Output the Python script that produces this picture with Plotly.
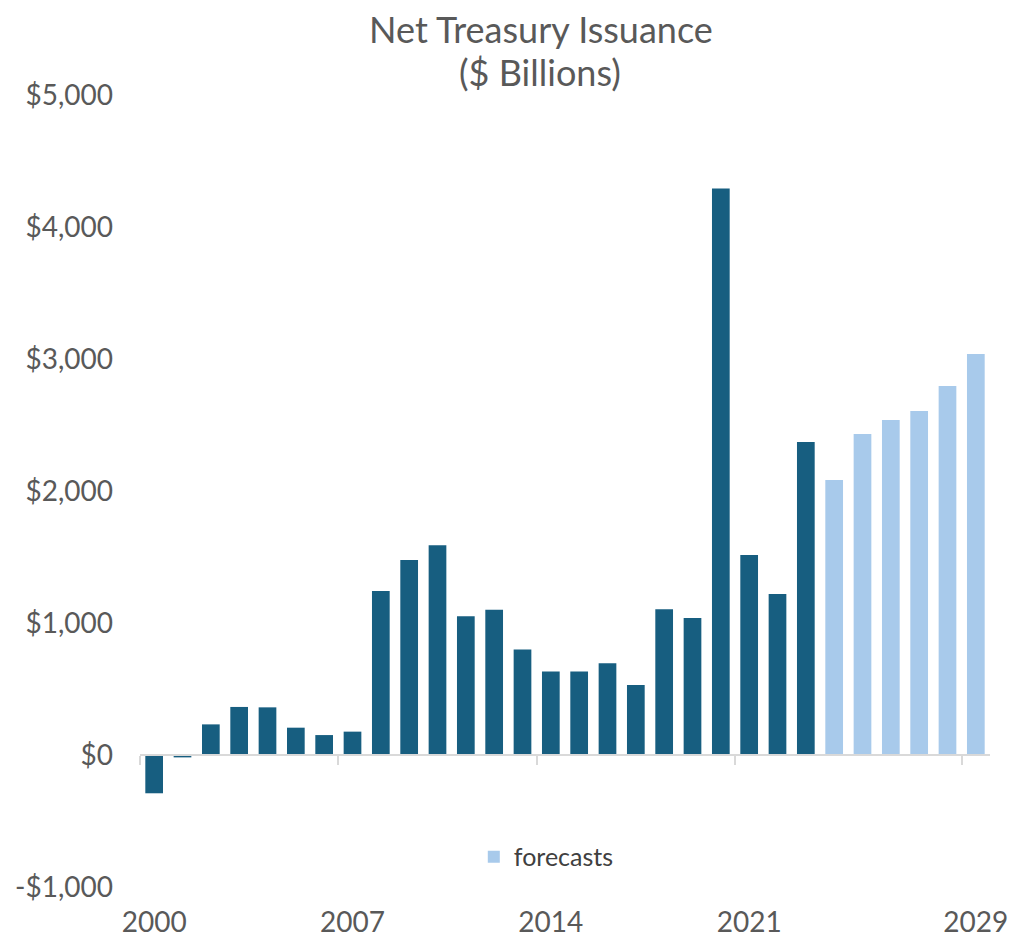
import plotly.graph_objects as go

# Net Treasury issuance, $ billions
hist_years = list(range(2000, 2024))
hist_values = [-290, -18, 232, 364, 361, 207, 151, 177, 1242, 1477, 1589, 1051,
               1100, 800, 632, 632, 695, 530, 1104, 1038, 4292, 1515, 1220, 2371]

fcst_years = list(range(2024, 2030))
fcst_values = [2083, 2432, 2538, 2606, 2795, 3038]

y_ticks = [-1000, 0, 1000, 2000, 3000, 4000, 5000]
y_labels = ["-$1,000", "$0", "$1,000", "$2,000", "$3,000", "$4,000", "$5,000"]

x_label_years = [2000, 2007, 2014, 2021, 2029]
x_tick_marks = [1999.5, 2006.5, 2013.5, 2020.5, 2028.5]

DARK = "#175e80"
LIGHT = "#a8caeb"
TEXT = "#595959"
AXIS = "#d9d9d9"
FONT = "Lato"

x_range = [1999.5, 2029.5]
y_range = [-1000, 5000]

fig = go.Figure()
fig.add_trace(go.Bar(
    x=hist_years, y=hist_values, marker=dict(color=DARK, line=dict(width=0)),
    showlegend=False, name="actual", xaxis="x",
))
fig.add_trace(go.Bar(
    x=fcst_years, y=fcst_values, marker=dict(color=LIGHT, line=dict(width=0)),
    name="forecasts", xaxis="x2",
))

zero_pos = (0 - y_range[0]) / (y_range[1] - y_range[0])

fig.update_layout(
    width=1013, height=939,
    margin=dict(l=140, r=23, t=95, b=52, autoexpand=False),
    paper_bgcolor="white", plot_bgcolor="white",
    barmode="overlay", bargap=0.375,
    font=dict(family=FONT, color=TEXT, size=28),
    title=dict(
        text="Net Treasury Issuance",
        font=dict(family=FONT, size=36, color=TEXT),
        x=0.534, xanchor="center", y=0.968, yanchor="middle",
    ),
    annotations=[dict(
        text="($ Billions)", showarrow=False,
        xref="paper", yref="paper", x=0.471, y=1.029,
        xanchor="center", yanchor="middle",
        font=dict(family=FONT, size=36, color=TEXT),
    )],
    xaxis=dict(
        range=x_range, tickvals=x_label_years,
        ticktext=[str(v) for v in x_label_years],
        showline=False, showgrid=False, zeroline=False, ticks="",
        ticklabelstandoff=16, automargin=False,
        tickfont=dict(size=28, color=TEXT),
    ),
    xaxis2=dict(
        range=x_range, overlaying="x", anchor="free", position=zero_pos,
        matches="x", side="bottom", automargin=False,
        showline=True, linecolor=AXIS, linewidth=2,
        ticks="outside", ticklen=9, tickwidth=2, tickcolor=AXIS,
        tickvals=x_tick_marks, showticklabels=False,
        showgrid=False, zeroline=False,
    ),
    yaxis=dict(
        range=y_range, tickvals=y_ticks, ticktext=y_labels,
        showgrid=False, zeroline=False, showline=False, ticks="",
        ticklabelstandoff=26, automargin=False,
        tickfont=dict(size=28, color=TEXT),
    ),
    legend=dict(
        orientation="h", x=0.478, xanchor="center", y=0.038, yanchor="middle",
        font=dict(size=25, color="#404040", family=FONT),
        bgcolor="rgba(0,0,0,0)",
    ),
)

fig.write_html("out.html")
